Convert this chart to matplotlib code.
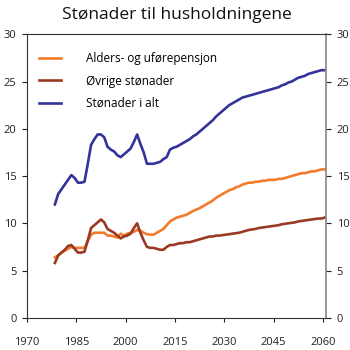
import numpy as np
import matplotlib
matplotlib.use('Agg')
import matplotlib.pyplot as plt

# %% Data
years = np.arange(1978, 2061)

pensjon = [6.4, 6.6, 6.9, 7.1, 7.3, 7.5, 7.4, 7.4, 7.4, 7.4,       # 1978-1987
           8.1, 8.8, 9.0, 9.0, 9.0, 9.0, 8.7, 8.7, 8.6, 8.5,       # 1988-1997
           8.9, 8.7, 8.9, 9.0, 9.1, 9.3, 9.2, 9.0, 8.85, 8.8,      # 1998-2007
           8.8, 9.0, 9.2, 9.4, 9.8, 10.2, 10.4, 10.6, 10.7, 10.8,  # 2008-2017
           10.9, 11.1, 11.3, 11.45, 11.6, 11.8, 12.0, 12.2, 12.4, 12.7,  # 2018-2027
           12.9, 13.1, 13.3, 13.5, 13.6, 13.8, 13.9, 14.1, 14.2, 14.3,   # 2028-2037
           14.3, 14.4, 14.4, 14.5, 14.5, 14.6, 14.6, 14.6, 14.7, 14.7,   # 2038-2047
           14.8, 14.9, 15.0, 15.1, 15.2, 15.3, 15.3, 15.4, 15.5, 15.5,   # 2048-2057
           15.6, 15.7, 15.7]                                             # 2058-2060

ovrige = [5.8, 6.6, 6.9, 7.2, 7.6, 7.7, 7.3, 6.9, 6.9, 7.0,        # 1978-1987
          8.2, 9.5, 9.8, 10.1, 10.4, 10.1, 9.4, 9.2, 9.0, 8.7,     # 1988-1997
          8.4, 8.6, 8.7, 8.9, 9.5, 10.0, 9.0, 8.2, 7.5, 7.4,       # 1998-2007
          7.4, 7.3, 7.2, 7.2, 7.5, 7.7, 7.7, 7.8, 7.9, 7.9,        # 2008-2017
          8.0, 8.0, 8.1, 8.2, 8.3, 8.4, 8.5, 8.6, 8.6, 8.7,        # 2018-2027
          8.7, 8.75, 8.8, 8.85, 8.9, 8.95, 9.0, 9.1, 9.2, 9.3,     # 2028-2037
          9.35, 9.4, 9.5, 9.55, 9.6, 9.65, 9.7, 9.75, 9.8, 9.9,    # 2038-2047
          9.95, 10.0, 10.05, 10.1, 10.2, 10.25, 10.3, 10.35, 10.4, 10.45,  # 2048-2057
          10.5, 10.5, 10.6]                                        # 2058-2060

i_alt = [12.0, 13.1, 13.6, 14.1, 14.6, 15.1, 14.8, 14.3, 14.3, 14.4,   # 1978-1987
         16.3, 18.3, 18.9, 19.4, 19.4, 19.1, 18.1, 17.8, 17.6, 17.2,   # 1988-1997
         17.0, 17.3, 17.6, 17.9, 18.6, 19.4, 18.4, 17.5, 16.3, 16.3,   # 1998-2007
         16.3, 16.4, 16.5, 16.8, 17.0, 17.8, 18.0, 18.1, 18.3, 18.5,   # 2008-2017
         18.7, 18.9, 19.2, 19.4, 19.7, 20.0, 20.3, 20.6, 20.9, 21.3,   # 2018-2027
         21.6, 21.9, 22.2, 22.5, 22.7, 22.9, 23.1, 23.3, 23.4, 23.5,   # 2028-2037
         23.6, 23.7, 23.8, 23.9, 24.0, 24.1, 24.2, 24.3, 24.4, 24.6,   # 2038-2047
         24.7, 24.9, 25.0, 25.2, 25.4, 25.5, 25.6, 25.8, 25.9, 26.0,   # 2048-2057
         26.1, 26.2, 26.2]                                             # 2058-2060

labels = ['Alders- og uførepensjon', 'Øvrige stønader', 'Stønader i alt']
colors = ['#f47a2c', '#9a3a22', '#333399']
xticks = [1970, 1985, 2000, 2015, 2030, 2045, 2060]
yticks = [0, 5, 10, 15, 20, 25, 30]

# %% Plot
plt.rcParams['font.family'] = ['Open Sans', 'DejaVu Sans']

fig = plt.figure(figsize=(3.5, 3.5), dpi=100)
ax = fig.add_axes([0.077, 0.092, 0.855, 0.81])

xpos = years + 0.5
for vals, lab, col in zip([pensjon, ovrige, i_alt], labels, colors):
    ax.plot(xpos, vals, color=col, lw=1.9, label=lab)

ax.set_xlim(1970, 2061)
ax.set_ylim(0, 30)
ax.set_xticks(xticks)
ax.set_yticks(yticks)

ax.tick_params(axis='x', direction='out', length=3, pad=11, labelsize=8,
               colors='#222222')
ax.tick_params(axis='y', direction='out', length=3.5, pad=4, labelsize=8,
               right=True, labelright=True, colors='#222222')
for t in ax.yaxis.get_major_ticks():
    t.tick2line.set_color('#888888')

for side in ['left', 'top', 'bottom']:
    ax.spines[side].set_color('#333333')
    ax.spines[side].set_linewidth(0.8)
ax.spines['right'].set_color('#888888')
ax.spines['right'].set_linewidth(1.2)

ax.legend(loc='upper left', frameon=False, fontsize=8.5, handlelength=1.9,
          handletextpad=2.1, labelspacing=0.8, borderaxespad=0.0,
          borderpad=0.0, bbox_to_anchor=(0.04, 0.937))

fig.text(0.505, 0.958, 'Stønader til husholdningene', ha='center',
         va='center', fontsize=12.5, color='#111111')

fig.savefig('out.png', dpi=100)
